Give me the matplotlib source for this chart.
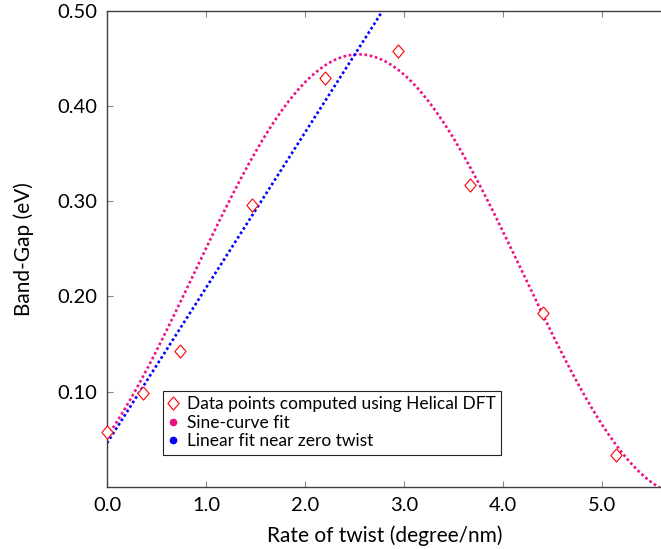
import matplotlib
matplotlib.use("Agg")
import matplotlib.pyplot as plt
from matplotlib.lines import Line2D
import numpy as np

plt.rcParams['font.family'] = ['Lato', 'DejaVu Sans']

# DFT data points
twist = [0.0, 0.367, 0.734, 1.468, 2.202, 2.936, 3.670, 4.404, 5.138]
gap = [0.058, 0.099, 0.143, 0.296, 0.429, 0.458, 0.317, 0.183, 0.034]

# fit parameters
sine_amp, sine_freq, sine_phase, sine_off = 0.232, 0.94, -0.817, 0.222
lin_slope, lin_icpt = 0.163, 0.046

x_max = 5.6
xs = np.linspace(0, x_max, 300)
sine_y = sine_amp * np.sin(sine_freq * xs + sine_phase) + sine_off
lin_y = lin_slope * xs + lin_icpt

fig = plt.figure(figsize=(6.61, 5.49), dpi=100)
ax = fig.add_axes([107/661, 62/549, (661-107)/661*1.001, 476.5/549])

diamond = [(0, 1), (0.85, 0), (0, -1), (-0.85, 0), (0, 1)]
magenta = '#ee1185'

ax.plot(twist, gap, linestyle='none', marker=diamond, markersize=9.5,
        markerfacecolor='white', markeredgecolor='#ff0000', markeredgewidth=0.8,
        label='Data points computed using Helical DFT', zorder=3, clip_on=False)
ax.plot(xs, sine_y, color=magenta, linestyle=(0, (1, 1)), linewidth=1.9,
        label='Sine-curve fit')
ax.plot(xs, lin_y, color='#0000ff', linestyle=(0, (1, 1)), linewidth=1.9,
        label='Linear fit near zero twist')

ax.set_xlim(0, x_max)
ax.set_ylim(0, 0.5)
ax.set_xticks([0, 1, 2, 3, 4, 5])
ax.set_xticklabels(['0.0', '1.0', '2.0', '3.0', '4.0', '5.0'])
ax.set_yticks([0.1, 0.2, 0.3, 0.4, 0.5])
ax.set_yticklabels(['0.10', '0.20', '0.30', '0.40', '0.50'])
ax.tick_params(direction='in', length=4, width=0.8, color='#888888',
               labelsize=14.5, top=True, right=False, pad=7)
for s in ['left', 'bottom', 'top']:
    ax.spines[s].set_color('#404040')
    ax.spines[s].set_linewidth(1.0)
ax.spines['right'].set_visible(False)

ax.set_xlabel('Rate of twist (degree/nm)', fontsize=15, labelpad=8.5)
ax.set_ylabel('Band-Gap (eV)', fontsize=15, labelpad=17)

# legend handles: diamond + small dots
handles = [
    Line2D([], [], linestyle='none', marker=diamond, markersize=9.5,
           markerfacecolor='white', markeredgecolor='#ff0000', markeredgewidth=0.8),
    Line2D([], [], linestyle='none', marker='o', markersize=4.5, color=magenta),
    Line2D([], [], linestyle='none', marker='o', markersize=4.5, color='#0000ff'),
]
labels = ['Data points computed using Helical DFT', 'Sine-curve fit',
          'Linear fit near zero twist']
leg = ax.legend(handles, labels, loc='lower left', bbox_to_anchor=(0.101, 0.068),
                borderaxespad=0, fancybox=False, framealpha=1, edgecolor='#222222',
                fontsize=12.5, handlelength=0.6, handletextpad=0.5,
                labelspacing=0.15, borderpad=0.3)
leg.get_frame().set_linewidth(0.8)

fig.savefig('out.png', dpi=100)
